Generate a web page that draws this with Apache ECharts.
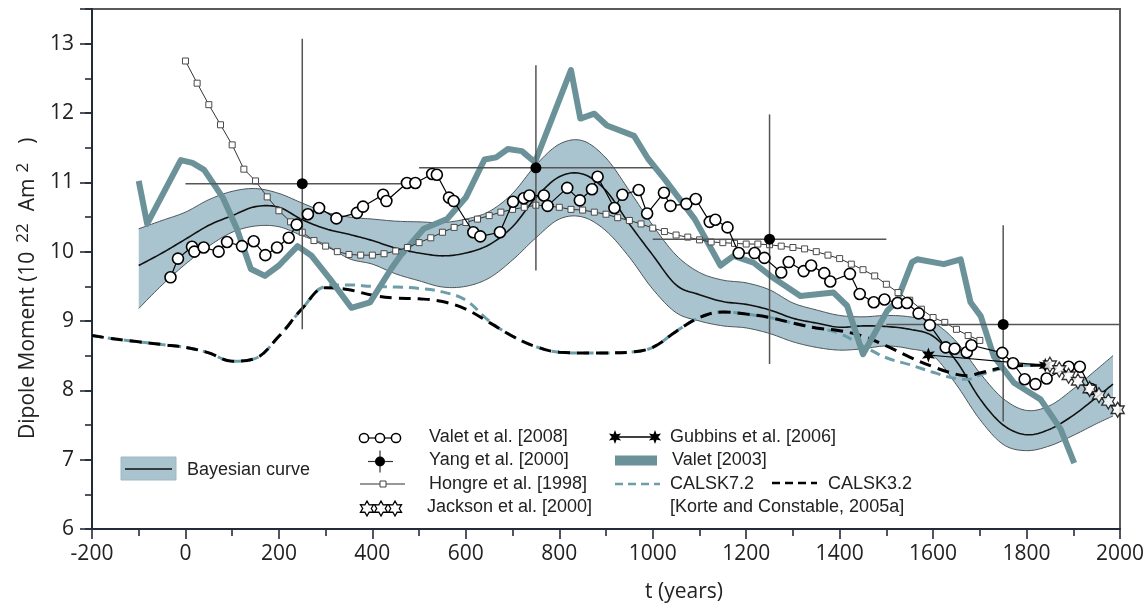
<!DOCTYPE html>
<html>
<head>
<meta charset="utf-8">
<script src="https://cdn.jsdelivr.net/npm/echarts@6/dist/echarts.min.js"></script>
<style>
  html, body { margin: 0; padding: 0; background: #fff; }
  #chart { width: 1145px; height: 606px; }
</style>
</head>
<body>
<div id="chart"></div>
<script>
// ---------------- data ----------------
// Bayesian curve: credible band and central estimate (years AD, 10^22 Am^2)
const bandYears  = [-100, -50, 0, 50, 100, 150, 200, 250, 300, 350, 400, 450, 500, 550, 600, 650, 700, 750, 800, 850, 900, 950, 1000, 1050, 1100, 1150, 1200, 1250, 1300, 1350, 1400, 1450, 1500, 1550, 1600, 1650, 1700, 1750, 1800, 1850, 1900, 1950, 1985];
const bandUpper  = [10.33, 10.45, 10.57, 10.75, 10.87, 10.91, 10.84, 10.70, 10.57, 10.50, 10.47, 10.44, 10.43, 10.42, 10.47, 10.58, 10.84, 11.25, 11.55, 11.60, 11.35, 10.88, 10.38, 9.95, 9.70, 9.59, 9.55, 9.45, 9.26, 9.16, 9.08, 9.06, 9.08, 9.06, 8.98, 8.70, 8.25, 7.88, 7.71, 7.78, 8.02, 8.30, 8.50];
const bandCenter = [9.80, 9.98, 10.18, 10.38, 10.52, 10.65, 10.64, 10.46, 10.33, 10.25, 10.16, 10.05, 9.98, 9.94, 9.98, 10.10, 10.36, 10.78, 11.08, 11.12, 10.88, 10.40, 9.95, 9.52, 9.38, 9.28, 9.24, 9.16, 9.04, 8.97, 8.91, 8.93, 8.92, 8.88, 8.78, 8.42, 7.88, 7.50, 7.36, 7.44, 7.64, 7.90, 8.09];
const bandLower  = [9.18, 9.52, 9.82, 10.08, 10.28, 10.37, 10.36, 10.23, 10.10, 9.90, 9.82, 9.68, 9.58, 9.49, 9.50, 9.62, 9.88, 10.20, 10.47, 10.50, 10.30, 9.92, 9.46, 9.12, 9.00, 8.93, 8.90, 8.82, 8.70, 8.62, 8.58, 8.60, 8.64, 8.60, 8.50, 8.08, 7.58, 7.22, 7.13, 7.20, 7.35, 7.52, 7.63];

// Valet et al. [2008]
const valet2008Years  = [-32, -16, 14, 19, 39, 71, 89, 121, 146, 171, 196, 221, 238, 262, 286, 323, 367, 380, 423, 430, 474, 492, 528, 538, 564, 574, 616, 631, 673, 701, 724, 736, 767, 775, 817, 844, 870, 882, 918, 935, 970, 988, 1024, 1038, 1072, 1092, 1122, 1134, 1160, 1184, 1218, 1239, 1275, 1291, 1323, 1339, 1367, 1380, 1422, 1443, 1473, 1496, 1524, 1544, 1569, 1593, 1627, 1646, 1672, 1682, 1748, 1771, 1796, 1819, 1843, 1890, 1914, 1938];
const valet2008Values = [9.63, 9.90, 10.07, 10.00, 10.06, 10.00, 10.14, 10.08, 10.15, 9.95, 10.06, 10.20, 10.39, 10.54, 10.63, 10.48, 10.56, 10.65, 10.82, 10.73, 10.99, 10.99, 11.12, 11.11, 10.78, 10.73, 10.28, 10.22, 10.28, 10.72, 10.77, 10.81, 10.81, 10.66, 10.92, 10.74, 10.90, 11.08, 10.63, 10.82, 10.89, 10.55, 10.85, 10.66, 10.69, 10.76, 10.43, 10.46, 10.35, 9.98, 9.98, 9.91, 9.70, 9.85, 9.72, 9.80, 9.69, 9.57, 9.68, 9.39, 9.27, 9.31, 9.26, 9.26, 9.11, 8.94, 8.62, 8.60, 8.55, 8.65, 8.54, 8.39, 8.16, 8.09, 8.17, 8.34, 8.34, 8.02];

// Yang et al. [2000]: estimates with age and intensity error bars
const yangYears    = [250, 750, 1250, 1750];
const yangValues   = [10.98, 11.21, 10.18, 8.95];
const yangYearLo   = [0, 500, 1000, 1500];
const yangYearHi   = [500, 1000, 1500, 2000];
const yangValueLo  = [8.88, 9.73, 8.38, 7.55];
const yangValueHi  = [13.07, 12.69, 11.98, 10.38];

// Hongre et al. [1998]
const hongreYears  = [0, 25, 50, 75, 100, 125, 150, 175, 200, 225, 250, 275, 300, 325, 350, 375, 400, 425, 450, 475, 500, 525, 550, 575, 600, 625, 650, 675, 700, 725, 750, 775, 800, 825, 850, 875, 900, 925, 950, 975, 1000, 1025, 1050, 1075, 1100, 1125, 1150, 1175, 1200, 1225, 1250, 1275, 1300, 1325, 1350, 1375, 1400, 1425, 1450, 1475, 1500, 1525, 1550, 1575, 1600, 1625, 1650, 1675, 1700];
const hongreValues = [12.75, 12.43, 12.12, 11.83, 11.54, 11.19, 11.02, 10.79, 10.59, 10.43, 10.28, 10.16, 10.08, 10.00, 9.96, 9.95, 9.95, 9.97, 10.01, 10.06, 10.13, 10.20, 10.28, 10.35, 10.42, 10.47, 10.52, 10.57, 10.61, 10.64, 10.67, 10.66, 10.64, 10.61, 10.60, 10.57, 10.54, 10.49, 10.45, 10.40, 10.34, 10.29, 10.24, 10.21, 10.17, 10.14, 10.13, 10.12, 10.11, 10.11, 10.10, 10.08, 10.06, 10.04, 10.00, 9.95, 9.90, 9.82, 9.74, 9.65, 9.53, 9.41, 9.30, 9.17, 9.05, 8.98, 8.88, 8.79, 8.72];

// Jackson et al. [2000]
const jacksonYears  = [1850, 1870, 1890, 1910, 1935, 1955, 1975, 1995];
const jacksonValues = [8.37, 8.30, 8.21, 8.13, 8.02, 7.93, 7.84, 7.72];

// Gubbins et al. [2006]
const gubbinsYears  = [1590, 1840];
const gubbinsValues = [8.51, 8.36];

// Valet [2003]
const valet2003Years  = [-100, -82, -10, 15, 40, 80, 110, 140, 170, 200, 240, 270, 310, 355, 395, 440, 460, 510, 560, 600, 640, 665, 690, 720, 748, 825, 845, 875, 902, 960, 990, 1025, 1090, 1145, 1173, 1216, 1252, 1316, 1387, 1416, 1450, 1502, 1522, 1555, 1566, 1623, 1659, 1680, 1702, 1730, 1773, 1830, 1873, 1902];
const valet2003Values = [11.02, 10.40, 11.32, 11.28, 11.18, 10.78, 10.33, 9.75, 9.65, 9.80, 10.08, 9.94, 9.60, 9.19, 9.27, 9.75, 9.94, 10.33, 10.47, 10.78, 11.33, 11.36, 11.48, 11.45, 11.29, 12.62, 11.92, 11.99, 11.82, 11.67, 11.34, 11.05, 10.47, 9.80, 9.94, 9.84, 9.65, 9.36, 9.41, 9.22, 8.52, 9.15, 9.28, 9.85, 9.89, 9.82, 9.89, 9.27, 9.07, 8.49, 8.11, 7.87, 7.44, 6.95];

// CALSK7.2 and CALSK3.2 [Korte and Constable, 2005a]
const calsk7Years  = [-200, -150, -100, -50, 0, 50, 100, 145, 200, 250, 300, 350, 400, 450, 500, 550, 600, 650, 700, 750, 800, 850, 900, 950, 1000, 1050, 1100, 1150, 1200, 1250, 1300, 1350, 1400, 1450, 1500, 1550, 1600, 1650, 1675, 1700, 1750, 1800, 1850];
const calsk7Values = [8.79, 8.74, 8.70, 8.66, 8.62, 8.54, 8.42, 8.45, 8.78, 9.18, 9.50, 9.52, 9.50, 9.49, 9.47, 9.42, 9.30, 9.00, 8.78, 8.63, 8.55, 8.54, 8.54, 8.55, 8.62, 8.85, 9.05, 9.13, 9.10, 9.05, 8.97, 8.90, 8.82, 8.64, 8.47, 8.37, 8.26, 8.17, 8.16, 8.22, 8.32, 8.36, 8.36];
const calsk3Years  = [-200, -150, -100, -50, 0, 50, 100, 145, 200, 250, 300, 350, 400, 450, 500, 550, 600, 650, 700, 750, 800, 850, 900, 950, 1000, 1050, 1100, 1150, 1200, 1250, 1300, 1350, 1400, 1450, 1500, 1550, 1600, 1650, 1675, 1700, 1750, 1800, 1850];
const calsk3Values = [8.79, 8.74, 8.70, 8.66, 8.62, 8.54, 8.42, 8.45, 8.78, 9.18, 9.48, 9.45, 9.37, 9.33, 9.32, 9.28, 9.17, 8.98, 8.78, 8.63, 8.55, 8.54, 8.54, 8.55, 8.62, 8.85, 9.05, 9.13, 9.10, 9.05, 8.97, 8.90, 8.86, 8.78, 8.64, 8.48, 8.34, 8.23, 8.21, 8.25, 8.33, 8.36, 8.36];

// Axis ticks
const xTickStart = -200, xTickEnd = 2000, xTickStep = 200;
const yTickStart = 6, yTickEnd = 13.5, yTickStep = 1;

// ---------------- styling ----------------
const BAND_FILL = '#a9c4cf';
const BAND_EDGE = '#4a5558';
const TEAL_THICK = '#6b9199';
const TEAL_DASH = '#6c9ea9';
const AXIS_COLOR = '#232b3b';
const TEXT = '#222';
const TICK_FONT = 'Open Sans';
const LEGEND_FONT = 'Liberation Sans, Arial, sans-serif';

const STAR6 = 'path://M0,-10L2.25,-3.9L8.66,-5L4.5,0L8.66,5L2.25,3.9L0,10L-2.25,3.9L-8.66,5L-4.5,0L-8.66,-5L-2.25,-3.9Z';
const HEXAGRAM = 'path://M0,-10L2.89,-5L8.66,-5L5.77,0L8.66,5L2.89,5L0,10L-2.89,5L-8.66,5L-5.77,0L-8.66,-5L-2.89,-5Z';

const pairs = (xs, ys) => xs.map((x, i) => [x, ys[i]]);

// Catmull-Rom resampling of pixel points, for the smooth band outline
function catmull(pts, steps) {
  const out = [];
  const n = pts.length;
  for (let i = 0; i < n - 1; i++) {
    const p0 = pts[Math.max(i - 1, 0)], p1 = pts[i], p2 = pts[i + 1], p3 = pts[Math.min(i + 2, n - 1)];
    for (let s = 0; s < steps; s++) {
      const t = s / steps, t2 = t * t, t3 = t2 * t;
      out.push([0, 1].map(k => 0.5 * ((2 * p1[k]) + (-p0[k] + p2[k]) * t +
        (2 * p0[k] - 5 * p1[k] + 4 * p2[k] - p3[k]) * t2 + (-p0[k] + 3 * p1[k] - 3 * p2[k] + p3[k]) * t3)));
    }
  }
  out.push(pts[n - 1].slice());
  return out;
}

// ---------------- y-axis title with superscripts ----------------
const measureCtx = document.createElement('canvas').getContext('2d');
function textWidth(str, size) {
  measureCtx.font = size + 'px "' + TICK_FONT + '"';
  return measureCtx.measureText(str).width;
}
function yTitle(x, y) {
  const parts = [
    { t: 'Dipole Moment (10', size: 21, dy: 0, gap: 0 },
    { t: '22', size: 17, dy: -5, gap: 9 },
    { t: 'Am', size: 21, dy: 0, gap: 12 },
    { t: '2', size: 17, dy: -5, gap: 6 },
    { t: ')', size: 21, dy: 0, gap: 19 }
  ];
  let cx = 0;
  const children = parts.map(p => {
    cx += p.gap;
    const el = { type: 'text', x: cx, y: p.dy,
      style: { text: p.t, fill: TEXT, font: p.size + 'px ' + TICK_FONT, align: 'left', verticalAlign: 'middle' } };
    cx += textWidth(p.t, p.size);
    return el;
  });
  return { type: 'group', x: x, y: y, rotation: Math.PI / 2, z: 100, children: children };
}

// ---------------- legend drawing helpers ----------------
function starPoints(cx, cy, rOut, rIn, n) {
  const pts = [];
  for (let k = 0; k < 2 * n; k++) {
    const a = -Math.PI / 2 + k * Math.PI / n;
    const r = k % 2 === 0 ? rOut : rIn;
    pts.push([cx + r * Math.cos(a), cy + r * Math.sin(a)]);
  }
  return pts;
}
function legendText(x, y, text) {
  return { type: 'text', x: x, y: y, z: 100,
    style: { text: text, fill: TEXT, font: '18px ' + LEGEND_FONT, verticalAlign: 'middle', align: 'left' } };
}
function lineEl(x1, y1, x2, y2, stroke, width, dash) {
  return { type: 'line', z: 100, shape: { x1, y1, x2, y2 },
    style: { stroke: stroke, lineWidth: width, lineDash: dash || null } };
}

const R1 = 437, R2 = 460.5, R3 = 484, R4 = 507.5;
const legendEls = [
  // Bayesian curve swatch
  { type: 'rect', z: 100, shape: { x: 121, y: 457, width: 55, height: 23 }, style: { fill: BAND_FILL, stroke: '#9fb8c2', lineWidth: 1 } },
  lineEl(125, 469, 172, 469, '#111', 1.6),
  legendText(187, 470, 'Bayesian curve'),

  // Valet et al. [2008]
  lineEl(364, R1 + 1, 396, R1 + 1, '#000', 1.2),
  { type: 'circle', z: 101, shape: { cx: 364, cy: R1 + 1, r: 4.6 }, style: { fill: '#fff', stroke: '#000', lineWidth: 1.5 } },
  { type: 'circle', z: 101, shape: { cx: 380, cy: R1 + 1, r: 4.6 }, style: { fill: '#fff', stroke: '#000', lineWidth: 1.5 } },
  { type: 'circle', z: 101, shape: { cx: 396, cy: R1 + 1, r: 4.6 }, style: { fill: '#fff', stroke: '#000', lineWidth: 1.5 } },
  legendText(429, R1, 'Valet et al. [2008]'),

  // Yang et al. [2000]
  lineEl(368, R2 + 1, 393, R2 + 1, '#333', 1.2),
  lineEl(380, R2 - 10, 380, R2 + 12, '#333', 1.2),
  { type: 'circle', z: 101, shape: { cx: 380, cy: R2 + 1, r: 5 }, style: { fill: '#000' } },
  legendText(429, R2, 'Yang et al. [2000]'),

  // Hongre et al. [1998]
  lineEl(360, R3, 405, R3, '#333', 1.2),
  { type: 'rect', z: 101, shape: { x: 380, y: R3 - 3, width: 6, height: 6 }, style: { fill: '#fff', stroke: '#444', lineWidth: 1 } },
  legendText(429, R3, 'Hongre et al. [1998]'),

  // Jackson et al. [2000]
  { type: 'polygon', z: 101, shape: { points: starPoints(367, R4 + 1, 7.5, 4.3, 6) }, style: { fill: '#fff', stroke: '#000', lineWidth: 1.3 } },
  { type: 'polygon', z: 101, shape: { points: starPoints(381, R4 + 1, 7.5, 4.3, 6) }, style: { fill: '#fff', stroke: '#000', lineWidth: 1.3 } },
  { type: 'polygon', z: 101, shape: { points: starPoints(395, R4 + 1, 7.5, 4.3, 6) }, style: { fill: '#fff', stroke: '#000', lineWidth: 1.3 } },
  legendText(427, R4, 'Jackson et al. [2000]'),

  // Gubbins et al. [2006]
  lineEl(615, R1, 655, R1, '#000', 1.4),
  { type: 'polygon', z: 101, shape: { points: starPoints(615, R1, 7, 3.2, 6) }, style: { fill: '#000' } },
  { type: 'polygon', z: 101, shape: { points: starPoints(655, R1, 7, 3.2, 6) }, style: { fill: '#000' } },
  legendText(670, R1, 'Gubbins et al. [2006]'),

  // Valet [2003]
  { type: 'rect', z: 100, shape: { x: 615, y: R2 - 5, width: 42, height: 10 }, style: { fill: TEAL_THICK } },
  legendText(672, R2, 'Valet [2003]'),

  // CALSK7.2 / CALSK3.2
  lineEl(615, R3, 660, R3, TEAL_DASH, 2.5, [8, 5]),
  legendText(670, R3, 'CALSK7.2'),
  lineEl(772, R3 - 1, 817, R3 - 1, '#000', 2.5, [8, 5]),
  legendText(828, R3, 'CALSK3.2'),
  legendText(670, R4, '[Korte and Constable, 2005a]')
];

// ---------------- chart ----------------
const chart = echarts.init(document.getElementById('chart'), null, { renderer: 'canvas' });

const option = {
  animation: false,
  backgroundColor: '#fff',
  grid: {
    left: 92, right: 25, top: 9, bottom: 77,
    containLabel: false, outerBoundsMode: 'none',
    show: true, borderColor: '#5a5a5a', borderWidth: 2, backgroundColor: 'transparent'
  },
  xAxis: {
    type: 'value', min: xTickStart, max: xTickEnd, interval: xTickStep,
    axisLine: { show: true, onZero: false, lineStyle: { color: AXIS_COLOR, width: 2 } },
    axisTick: { show: true, length: 10, lineStyle: { color: AXIS_COLOR, width: 1.6 } },
    minorTick: { show: true, splitNumber: 2, length: 7, lineStyle: { color: AXIS_COLOR, width: 1.6 } },
    splitLine: { show: false },
    minorSplitLine: { show: false },
    axisLabel: { fontFamily: TICK_FONT, fontSize: 21, color: TEXT, margin: 15, formatter: v => String(v) }
  },
  yAxis: [
    {
      type: 'value', min: yTickStart, max: yTickEnd, interval: yTickStep,
      axisLine: { show: true, onZero: false, lineStyle: { color: AXIS_COLOR, width: 2 } },
      axisTick: { show: true, length: 12, lineStyle: { color: AXIS_COLOR, width: 1.6 } },
      splitLine: { show: false },
      axisLabel: {
        fontFamily: TICK_FONT, fontSize: 21, color: TEXT, margin: 18,
        formatter: v => (Number.isInteger(v) ? String(v) : '')
      }
    },
    {
      type: 'value', min: yTickStart, max: yTickEnd, interval: yTickStep / 2, position: 'left',
      axisLine: { show: false, onZero: false },
      axisTick: { show: true, length: 7, lineStyle: { color: AXIS_COLOR, width: 1.6 } },
      axisLabel: { show: false },
      splitLine: { show: false }
    }
  ],
  series: [
    // Bayesian curve: shaded credible band with outlined edges and central estimate
    { name: 'Bayesian curve', type: 'custom', z: 1,
      data: pairs(bandYears, bandCenter),
      encode: { x: 0, y: 1 },
      renderItem: function (params, api) {
        if (params.dataIndex !== 0) return null;
        const up = catmull(bandYears.map((t, i) => api.coord([t, bandUpper[i]])), 10);
        const lo = catmull(bandYears.map((t, i) => api.coord([t, bandLower[i]])), 10);
        const ce = catmull(bandYears.map((t, i) => api.coord([t, bandCenter[i]])), 10);
        return { type: 'group', children: [
          { type: 'polygon', shape: { points: up.concat(lo.slice().reverse()) }, style: { fill: BAND_FILL } },
          { type: 'polyline', shape: { points: up }, style: { stroke: BAND_EDGE, lineWidth: 1, fill: null } },
          { type: 'polyline', shape: { points: lo }, style: { stroke: BAND_EDGE, lineWidth: 1, fill: null } },
          { type: 'polyline', shape: { points: ce }, style: { stroke: '#111', lineWidth: 1.6, fill: null } }
        ] };
      }
    },

    // CALSK models
    { name: 'CALSK7.2', type: 'line', smooth: 0.4, symbol: 'none',
      lineStyle: { color: TEAL_DASH, width: 3, type: [10, 6] }, data: pairs(calsk7Years, calsk7Values), z: 3 },
    { name: 'CALSK3.2', type: 'line', smooth: 0.4, symbol: 'none',
      lineStyle: { color: '#000', width: 3, type: [12, 7] }, data: pairs(calsk3Years, calsk3Values), z: 3 },

    // Valet [2003]
    { name: 'Valet [2003]', type: 'line', smooth: false, symbol: 'none',
      lineStyle: { color: TEAL_THICK, width: 6, join: 'round', cap: 'butt' },
      data: pairs(valet2003Years, valet2003Values), z: 4 },

    // Hongre et al. [1998]
    { name: 'Hongre et al. [1998]', type: 'line', symbol: 'rect', symbolSize: 6, showAllSymbol: true,
      lineStyle: { color: '#333', width: 1 },
      itemStyle: { color: '#fff', borderColor: '#4a4a4a', borderWidth: 1 },
      data: pairs(hongreYears, hongreValues), z: 5 },

    // Yang et al. [2000] with error bars
    { name: 'Yang et al. [2000]', type: 'custom', z: 6,
      data: yangYears.map((t, i) => [t, yangValues[i], yangYearLo[i], yangYearHi[i], yangValueLo[i], yangValueHi[i]]),
      encode: { x: 0, y: 1 },
      renderItem: function (params, api) {
        const c = api.coord([api.value(0), api.value(1)]);
        const l = api.coord([api.value(2), api.value(1)]);
        const r = api.coord([api.value(3), api.value(1)]);
        const lo = api.coord([api.value(0), api.value(4)]);
        const hi = api.coord([api.value(0), api.value(5)]);
        return { type: 'group', children: [
          { type: 'line', shape: { x1: l[0], y1: l[1], x2: r[0], y2: r[1] }, style: { stroke: '#555', lineWidth: 1.5 } },
          { type: 'line', shape: { x1: lo[0], y1: lo[1], x2: hi[0], y2: hi[1] }, style: { stroke: '#555', lineWidth: 1.5 } },
          { type: 'circle', shape: { cx: c[0], cy: c[1], r: 5.5 }, style: { fill: '#000' } }
        ] };
      }
    },

    // Gubbins et al. [2006]
    { name: 'Gubbins et al. [2006]', type: 'line', symbol: STAR6, symbolSize: [13, 15],
      lineStyle: { color: '#000', width: 1.2 }, itemStyle: { color: '#000' },
      data: pairs(gubbinsYears, gubbinsValues), z: 7 },

    // Valet et al. [2008]
    { name: 'Valet et al. [2008]', type: 'line', symbol: 'circle', symbolSize: 11, showAllSymbol: true,
      lineStyle: { color: '#000', width: 1.2 },
      itemStyle: { color: '#fff', borderColor: '#000', borderWidth: 1.6 },
      data: pairs(valet2008Years, valet2008Values), z: 8 },

    // Jackson et al. [2000]
    { name: 'Jackson et al. [2000]', type: 'scatter', symbol: HEXAGRAM, symbolSize: [13, 15],
      itemStyle: { color: '#fff', borderColor: '#000', borderWidth: 1.3 },
      data: pairs(jacksonYears, jacksonValues), z: 9 }
  ],
  graphic: [
    yTitle(28, 439),
    { type: 'text', x: 684, y: 592, z: 100,
      style: { text: 't (years)', fill: TEXT, font: '21px ' + TICK_FONT, align: 'center', verticalAlign: 'middle' } }
  ].concat(legendEls)
};

chart.setOption(option);
</script>
</body>
</html>
